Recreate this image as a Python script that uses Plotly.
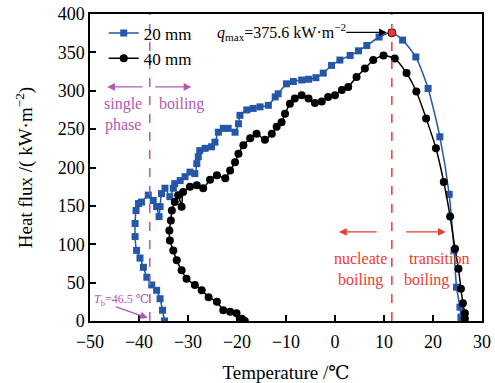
import plotly.graph_objects as go

# Boiling curves: wall temperature (°C) vs heat flux (kW/m^2)
t_20mm = [-34.8, -35.2, -35.7, -36.4, -37.4, -38.4, -39.1, -39.8, -40.5, -40.8, -40.8,
          -40.6, -40.1, -39.5, -38.1, -37.1, -36.4, -35.9, -35.7, -35.4, -34.7, -33.7,
          -33.0, -32.7, -31.6, -30.6, -29.6, -28.6, -28.2, -27.9, -27.6, -26.5, -25.2,
          -24.5, -23.8, -22.8, -21.8, -20.4, -19.7, -19.4, -18.0, -16.7, -15.3, -13.6,
          -12.2, -11.6, -9.9, -8.5, -6.8, -5.4, -3.9, -2.4, -0.7, 1.0, 3.1, 4.8, 6.5,
          9.0, 11.6, 13.8, 16.5, 19.0, 21.4, 23.3, 24.3, 24.8, 25.5, 25.7, 25.8]
q_20mm = [0, 14, 29, 40, 47, 57, 70, 82, 92, 110, 127,
          144, 153, 155, 164, 157, 149, 136, 149, 166, 173, 162,
          173, 179, 183, 188, 194, 192, 205, 214, 222, 225, 227,
          233, 246, 251, 251, 246, 257, 268, 275, 277, 279, 281,
          292, 296, 309, 312, 314, 315, 317, 323, 333, 340, 346, 352, 359,
          370, 375.6, 366, 344, 303, 240, 165, 92, 44, 18, 5, 0]

t_40mm = [-18.4, -19.0, -20.1, -21.4, -22.8, -24.1, -25.8, -27.2, -28.6, -30.3, -31.3,
          -32.3, -33.0, -33.7, -33.8, -33.5, -33.3, -32.7, -32.0, -31.3, -31.0, -29.6,
          -28.2, -26.9, -25.5, -24.1, -22.4, -21.4, -20.4, -19.7, -18.7, -17.3, -16.0,
          -14.3, -12.9, -11.9, -10.9, -10.2, -9.2, -8.2, -6.8, -5.4, -4.1, -2.7, -1.4,
          0.0, 1.4, 2.7, 4.4, 6.1, 7.8, 9.9, 12.2, 14.6, 16.6, 18.6, 20.6, 22.2, 23.5,
          24.5, 25.2, 25.7, 26.1, 26.5, 26.5]
q_40mm = [0, 3, 10, 12, 14, 25, 31, 40, 47, 55, 66,
          79, 92, 105, 118, 131, 144, 155, 164, 149, 168, 175,
          177, 173, 184, 190, 186, 196, 207, 218, 229, 238, 244,
          236, 244, 253, 259, 270, 283, 290, 294, 290, 284, 286, 292,
          294, 301, 305, 318, 329, 340, 346, 342, 323, 299, 264, 225, 181, 136,
          94, 68, 42, 23, 10, 3]

q_max = 375.6
t_qmax = 11.6
t_b_line = -37.8

BLUE = "#2457a8"
MAGENTA = "#b457b4"
RED = "#ee3a32"
SERIF = "Liberation Serif, DejaVu Serif, Times New Roman, serif"

fig = go.Figure()
fig.add_trace(go.Scatter(
    x=t_20mm, y=q_20mm, mode="lines+markers", name="20 mm",
    line=dict(color=BLUE, width=1.5, shape="spline", smoothing=0.6),
    marker=dict(symbol="square", size=7, color=BLUE)))
fig.add_trace(go.Scatter(
    x=t_40mm, y=q_40mm, mode="lines+markers", name="40 mm",
    line=dict(color="black", width=1.5, shape="spline", smoothing=0.6),
    marker=dict(symbol="circle", size=8, color="black")))
fig.add_trace(go.Scatter(
    x=[t_qmax], y=[q_max], mode="markers", showlegend=False,
    marker=dict(symbol="circle", size=8, color=RED, line=dict(color="#400", width=1))))

# regime separators
fig.add_shape(type="line", xref="x", yref="paper", x0=t_b_line, x1=t_b_line, y0=0, y1=1,
              line=dict(color=MAGENTA, width=1.5, dash="dash"))
fig.add_shape(type="line", xref="x", yref="paper", x0=t_qmax, x1=t_qmax, y0=0, y1=1,
              line=dict(color=RED, width=1.5, dash="dash"))

def arrow(x0, y0, x1, y1, color):
    fig.add_annotation(x=x1, y=y1, ax=x0, ay=y0, xref="x", yref="y", axref="x", ayref="y",
                       text="", showarrow=True, arrowhead=2, arrowsize=1.2, arrowwidth=1.3,
                       arrowcolor=color)

def label(x, y, text, color, size=16, xanchor="center"):
    fig.add_annotation(x=x, y=y, xref="x", yref="y", text=text, showarrow=False,
                       xanchor=xanchor, font=dict(family=SERIF, size=size, color=color))

arrow(-39.0, 305, -46.5, 305, MAGENTA)
arrow(-37.0, 305, -29.3, 305, MAGENTA)
label(-43.3, 283, "single", MAGENTA)
label(-43.3, 256, "phase", MAGENTA)
label(-31.3, 283, "boiling", MAGENTA)

arrow(8.8, 116, 0.8, 116, RED)
arrow(14.2, 116, 22.6, 116, RED)
label(5.2, 81, "nucleate", RED)
label(5.2, 54, "boiling", RED)
label(21.2, 81, "transition", RED)
label(18.6, 54, "boiling", RED)

arrow(-45.0, 19, -38.2, 4, MAGENTA)
label(-49.6, 27, "<i>T</i><sub>b</sub>=46.5 ℃", MAGENTA, size=12, xanchor="left")

arrow(2.0, 376, 10.6, 376, "black")
label(-24.5, 376, "<i>q</i><sub>max</sub>=375.6 kW·m<sup>−2</sup>", "black", size=16,
      xanchor="left")

axis_common = dict(showline=True, linecolor="black", linewidth=1.5, mirror=True,
                   ticks="inside", ticklen=6, tickwidth=1.5, tickcolor="black",
                   showgrid=False, zeroline=False, automargin=False,
                   tickfont=dict(family=SERIF, size=18, color="black"))
fig.update_xaxes(range=[-50, 30], tickvals=list(range(-50, 31, 10)),
                 ticktext=[str(v).replace("-", "−") for v in range(-50, 31, 10)],
                 ticklabelstandoff=4,
                 title=dict(text="Temperature /℃",
                            font=dict(family=SERIF, size=19, color="black"),
                            standoff=16), **axis_common)
fig.update_yaxes(range=[0, 400], dtick=50,
                 title=dict(text="Heat flux /( kW·m<sup>−2</sup>)",
                            font=dict(family=SERIF, size=19, color="black"),
                            standoff=20), **axis_common)

fig.update_layout(
    width=495, height=383, margin=dict(l=90, r=13, t=14, b=62),
    plot_bgcolor="white", paper_bgcolor="white",
    font=dict(family=SERIF, color="black"),
    legend=dict(x=0.035, y=0.995, xanchor="left", yanchor="top", bgcolor="rgba(0,0,0,0)",
                font=dict(family=SERIF, size=17, color="black"), tracegroupgap=0,
                itemwidth=30),
)

fig.write_html("out.html")
